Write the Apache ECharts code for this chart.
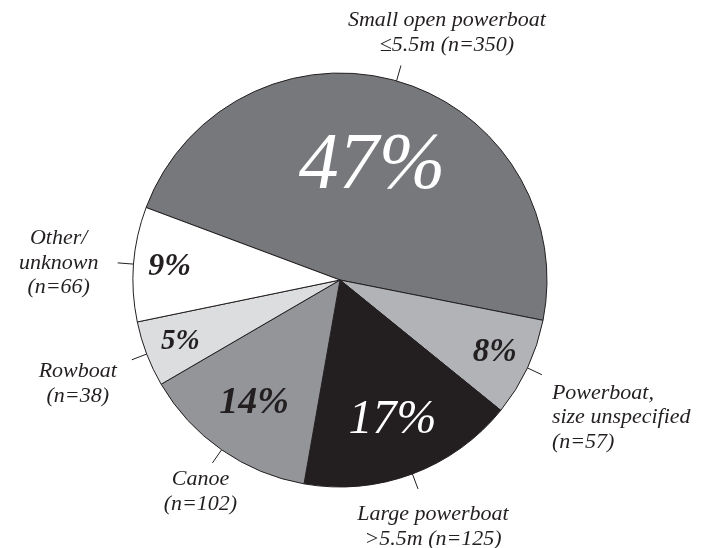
<!DOCTYPE html>
<html><head><meta charset="utf-8">
<script src="https://cdn.jsdelivr.net/npm/echarts@6/dist/echarts.min.js"></script>
<style>html,body{margin:0;padding:0;background:#fff}#c{width:701px;height:548px}</style>
</head><body><div id="c"></div>
<script>
// ---- data ----
const categories = ['Small open powerboat\n≤5.5m (n=350)', 'Powerboat,\nsize unspecified\n(n=57)', 'Large powerboat\n>5.5m (n=125)', 'Canoe\n(n=102)', 'Rowboat\n(n=38)', 'Other/\nunknown\n(n=66)'];
const counts = [350, 57, 125, 102, 38, 66];

// ---- styles ----
const sliceColors = ['#77787b', '#b1b3b6', '#231f20', '#939598', '#dcdddf', '#ffffff'];
const pctColors = ['#ffffff', '#231f20', '#ffffff', '#231f20', '#231f20', '#231f20'];
const pctSizes = [80, 33, 48, 38, 29, 32];
const pctWeights = ['normal', 'bold', 'normal', 'bold', 'bold', 'bold'];
const pctRing = [0, 2, 1, 1, 2, 2];
const rings = [[0, 228], [128, 166], [150, 186]];
const outerOffsets = [[46, -33, 'center'], [10, 43, 'left'], [15, 38, 'center'], [-12, 29, 'center'], [-54, 24, 'center'], [-59, 0, 'center']];
const FONT = '"Liberation Serif", "Times New Roman", serif';
const DARK = '#231f20';
const CENTER = [340, 280];
const R = 207;
const START = 159.5;

const chart = echarts.init(document.getElementById('c'), null, {renderer: 'canvas'});

const mainData = counts.map((v, i) => ({
  name: categories[i], value: v,
  itemStyle: {color: sliceColors[i]}
}));

const series = [{
  type: 'pie',
  center: CENTER,
  radius: [0, R],
  startAngle: START,
  clockwise: true,
  avoidLabelOverlap: false,
  silent: true,
  animation: false,
  itemStyle: {borderColor: DARK, borderWidth: 1},
  label: {
    show: true, position: 'outside',
    fontFamily: FONT, fontStyle: 'italic', fontSize: 22, lineHeight: 24.5,
    color: DARK, formatter: '{b}'
  },
  labelLine: {show: true, length: 16, length2: 0, smooth: false,
    lineStyle: {color: DARK, width: 1}},
  labelLayout: function (p) {
    const pts = p.labelLinePoints;
    const o = outerOffsets[p.dataIndex];
    const end = pts[1];
    return {x: end[0] + o[0], y: end[1] + o[1], align: o[2], verticalAlign: 'middle', labelLinePoints: pts};
  },
  emphasis: {disabled: true},
  data: mainData
}];

rings.forEach((rg, k) => {
  series.push({
    type: 'pie',
    center: CENTER,
    radius: rg,
    startAngle: START,
    clockwise: true,
    avoidLabelOverlap: false,
    silent: true,
    animation: false,
    itemStyle: {color: 'rgba(0,0,0,0)', borderWidth: 0},
    labelLine: {show: false},
    emphasis: {disabled: true},
    data: counts.map((v, i) => ({
      name: categories[i], value: v,
      label: {
        show: pctRing[i] === k, position: 'inside',
        fontFamily: FONT, fontStyle: 'italic', fontWeight: pctWeights[i],
        fontSize: pctSizes[i], color: pctColors[i],
        formatter: p => Math.round(p.percent) + '%'
      }
    }))
  });
});

chart.setOption({animation: false, backgroundColor: '#ffffff', series: series});
</script>
</body></html>
